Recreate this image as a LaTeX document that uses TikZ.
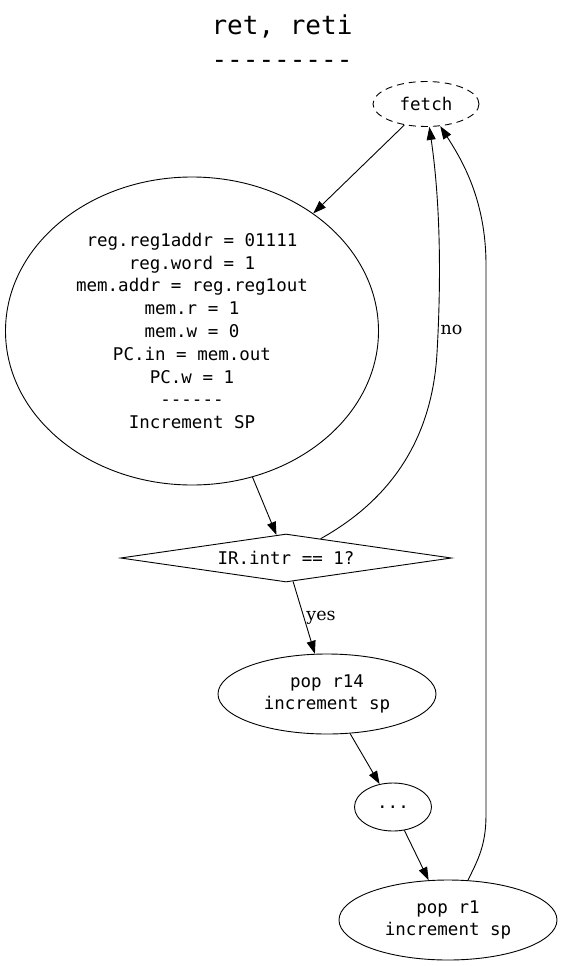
\documentclass[tikz,border=0pt]{standalone}
\usepackage{fontspec}
\setmonofont{DejaVu Sans Mono}
\newfontfamily\labelfont{DejaVu Serif}
\usetikzlibrary{arrows.meta}
\usetikzlibrary{shapes.geometric}

\begin{document}
\begin{tikzpicture}[x=1pt,y=-1pt,line width=0.9pt,
	state/.style={draw, ellipse, inner sep=0pt, align=center, font=\ttfamily\fontsize{17.5}{22.8}\selectfont},
	test/.style={draw, diamond, aspect=6, inner sep=0pt, font=\ttfamily\fontsize{17.5}{22.8}\selectfont},
	title/.style={anchor=base, font=\ttfamily\fontsize{26}{34}\selectfont},
	edge/.style={-{Triangle[length=13pt,width=9pt]}},
	elabel/.style={font=\labelfont\fontsize{17.5}{20}\selectfont, inner sep=2pt}]
					\useasboundingbox (0,0) rectangle (561,966);
					% title
					\node[title] (title) at (282,35) {ret, reti};
					\node[title] (titlerule) at (282,69) {---------};
					% draw nodes
					\node[state, dashed, dash pattern=on 7pt off 5pt, minimum width=106pt, minimum height=45pt] (fetch) at (426,104) {fetch};
					\node[state, minimum width=373pt, minimum height=308pt] (regload) at (192,331) {reg.reg1addr = 01111\\reg.word = 1\\mem.addr = reg.reg1out\\mem.r = 1\\mem.w = 0\\PC.in = mem.out\\PC.w = 1\\------\\Increment SP};
					\node[test, minimum width=331pt, minimum height=48pt] (intr) at (286,558) {IR.intr == 1?};
					\node[state, minimum width=218pt, minimum height=80pt] (popfour) at (327,694) {pop r14\\increment sp};
					\node[state, minimum width=77pt, minimum height=48pt] (dots) at (393,807) {...};
					\node[state, minimum width=218pt, minimum height=80pt] (popone) at (448,920) {pop r1\\increment sp};
					% draw edges
					\draw[edge] (fetch) -- (regload);
					\draw[edge] (regload) -- (intr);
					\draw[edge] (intr) -- node[elabel, right] {yes} (popfour);
					\draw[edge] (popfour) -- (dots);
					\draw[edge] (dots) -- (popone);
					\draw[edge] (intr) .. controls (390,500) and (432,440) .. (437,353) .. controls (441.5,275) and (440,200) .. (fetch) node[elabel, right, pos=0.1] {no};
					\draw[edge] (popone) .. controls (478,860) and (486,845) .. (486,815) -- (486,265) .. controls (486,200) and (462,160) .. (fetch);
				\end{tikzpicture}
\end{document}
